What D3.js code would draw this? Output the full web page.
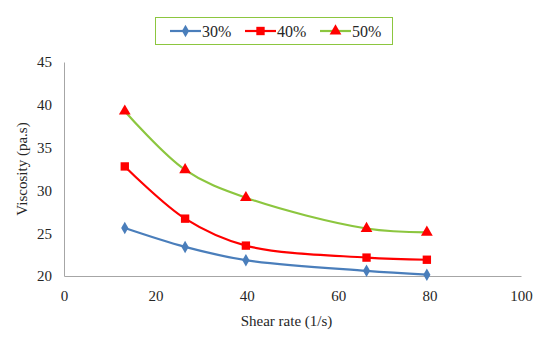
<!DOCTYPE html>
<html>
<head>
<meta charset="utf-8">
<script src="https://cdn.jsdelivr.net/npm/d3@7"></script>
<style>
  body { margin: 0; background: #fff; }
</style>
</head>
<body>
<div id="chart"></div>
<script>
// shear rate (1/s)
const shearRate = [13.3, 26.5, 39.8, 66.2, 79.4];
const visc30 = [25.6, 23.4, 21.85, 20.6, 20.15];
const visc40 = [32.8, 26.7, 23.55, 22.15, 21.9];
const visc50 = [39.25, 32.4, 29.15, 25.55, 25.1];
const seriesNames = ["30%", "40%", "50%"];
const xTicks = [0, 20, 40, 60, 80, 100];
const yTicks = [20, 25, 30, 35, 40, 45];

const FONT = "Liberation Serif";
const W = 554, H = 340;
const margin = { top: 62, right: 33, bottom: 64, left: 64 };
const width = W - margin.left - margin.right;
const height = H - margin.top - margin.bottom;

const svg = d3.select("#chart").append("svg")
  .attr("width", W).attr("height", H);
const g = svg.append("g")
  .attr("transform", "translate(" + margin.left + "," + margin.top + ")");

const x = d3.scaleLinear().domain([0, 100]).range([0, width]);
const y = d3.scaleLinear().domain([20, 45]).range([height, 0]);

// axes
const xAxis = g.append("g").attr("transform", "translate(0," + height + ")")
  .call(d3.axisBottom(x).tickValues(xTicks).tickSize(0).tickPadding(14));
const yAxis = g.append("g")
  .call(d3.axisLeft(y).tickValues(yTicks).tickSize(0).tickPadding(12));
[xAxis, yAxis].forEach(a => {
  a.attr("font-family", null).attr("font-size", null);
  a.select(".domain").attr("stroke", "#a6a6a6").attr("stroke-width", 1);
  a.selectAll("text").attr("fill", "#262626")
    .attr("font-family", FONT).attr("font-size", 15);
});

svg.append("text").attr("x", margin.left + width / 2 - 6).attr("y", 326)
  .attr("text-anchor", "middle").attr("font-family", FONT).attr("font-size", 15)
  .attr("fill", "#262626").text("Shear rate (1/s)");
svg.append("text").attr("transform", "translate(27," + (margin.top + height / 2) + ") rotate(-90)")
  .attr("text-anchor", "middle").attr("font-family", FONT).attr("font-size", 15)
  .attr("fill", "#262626").text("Viscosity (pa.s)");

const series = [
  { name: seriesNames[0], values: visc30, line: "#4a7ebb", marker: "#4a7ebb", shape: d3.symbolDiamond, size: 45 },
  { name: seriesNames[1], values: visc40, line: "#ff0000", marker: "#ff0000", shape: d3.symbolSquare, size: 70 },
  { name: seriesNames[2], values: visc50, line: "#8cc63f", marker: "#ff0000", shape: d3.symbolTriangle, size: 60 }
];

const line = d3.line()
  .x((d, i) => x(shearRate[i]))
  .y(d => y(d))
  .curve(d3.curveCatmullRom.alpha(0.5));

series.forEach(s => {
  g.append("path").datum(s.values)
    .attr("fill", "none").attr("stroke", s.line).attr("stroke-width", 2.2)
    .attr("d", line);
  g.selectAll(null).data(s.values).enter().append("path")
    .attr("transform", (d, i) => "translate(" + x(shearRate[i]) + "," + y(d) + ")")
    .attr("d", d3.symbol().type(s.shape).size(s.size))
    .attr("fill", s.marker);
});

// legend
const leg = svg.append("g");
leg.append("rect").attr("x", 155.5).attr("y", 17.5).attr("width", 237).attr("height", 27)
  .attr("fill", "#fff").attr("stroke", "#8cc63f").attr("stroke-width", 1);
const legX = [170, 245, 320];
series.forEach((s, i) => {
  const lx = legX[i];
  leg.append("line").attr("x1", lx).attr("x2", lx + 31).attr("y1", 31).attr("y2", 31)
    .attr("stroke", s.line).attr("stroke-width", 2.2);
  leg.append("path").attr("transform", "translate(" + (lx + 15.5) + ",31)")
    .attr("d", d3.symbol().type(s.shape).size(s.size)).attr("fill", s.marker);
  leg.append("text").attr("x", lx + 32).attr("y", 36.5)
    .attr("font-family", FONT).attr("font-size", 16)
    .attr("fill", "#262626").text(s.name);
});
</script>
</body>
</html>
